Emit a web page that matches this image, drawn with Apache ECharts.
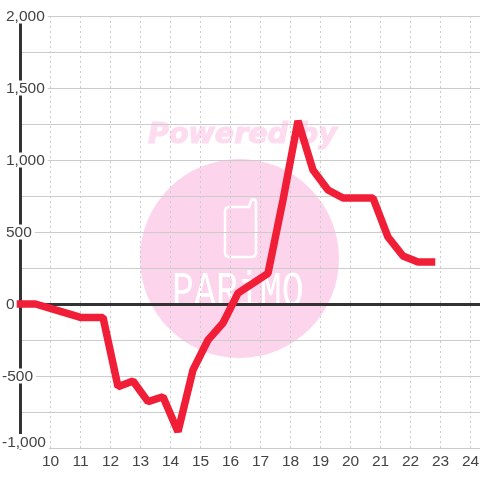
<!DOCTYPE html>
<html><head><meta charset="utf-8">
<style>html,body{margin:0;padding:0;background:#fff}#c{width:480px;height:480px}</style>
<script src="https://cdn.jsdelivr.net/npm/echarts@6/dist/echarts.min.js"></script>
</head><body><div id="c"></div>
<script>
const hours = [9,9.5,10.25,11,11.75,12.25,12.75,13.25,13.75,14.25,14.75,15.25,15.75,16.25,17.25,17.75,18.25,18.75,19.25,19.75,20.25,20.75,21.25,21.75,22.25,22.7];
const values = [0,0,-46,-93,-93,-574,-535,-678,-644,-887,-458,-250,-132,76,213,722,1272,930,792,736,736,736,465,333,292,292];
const yMin = -1000, yMax = 2000, yStep = 500;
const xMin = 9, xMax = 25;

const font = 'Liberation Sans';
const labelRich = {
  pos: {fontFamily:font,fontSize:15.5,color:'#444',backgroundColor:'#fff',padding:[2,3,0,4],lineHeight:13,height:13},
  neg: {fontFamily:font,fontSize:15.5,color:'#444',backgroundColor:'#fff',padding:[2,3,0,0],lineHeight:13,height:13}
};
const phoneOutline = [[229,207],[249,207],[251,201],[252,199.5],[254,199.5],[255.5,200.5],[256,203],[256,253],[255,256],[252,257],[229,257],[226,256],[225,253],[225,211],[226,208]];
const option = {
  animation:false,
  backgroundColor:'#fff',
  grid:{left:20.5,top:16,width:480,height:432,containLabel:false,outerBoundsMode:'none'},
  graphic:[
    {type:'circle',z:-10,silent:true,shape:{cx:239.5,cy:258.5,r:99.5},style:{fill:'#fcd4ec'}},
    {type:'text',z:-9,silent:true,x:148,y:121,style:{text:'Powered by',font:'italic bold 28.5px "DejaVu Sans"',fill:'#fddcf0',stroke:'#fddcf0',lineWidth:1.2}},
    {type:'polygon',z:-9,silent:true,shape:{points:phoneOutline},style:{fill:'none',stroke:'#fff',lineWidth:2.5}},
    {type:'text',z:-9,silent:true,x:172,y:268,scaleY:1.35,style:{text:'PARiMO',font:'36.6px "Liberation Mono"',fill:'#fff'}}
  ],
  xAxis:[{
    type:'value',min:xMin,max:xMax,interval:1,position:'bottom',
    axisLine:{show:false,onZero:false},axisTick:{show:false},
    axisLabel:{color:'#444',fontFamily:font,fontSize:15.5,margin:6,hideOverlap:false,
      formatter:v=>v===xMin?'':String(v)},
    splitLine:{show:true,lineStyle:{color:'#ccc',width:1,type:[2,3]}}
  },{
    type:'value',min:xMin,max:xMax,interval:1,position:'bottom',
    axisLine:{show:true,onZero:true,lineStyle:{color:'#333',width:3}},
    axisTick:{show:false},axisLabel:{show:false},splitLine:{show:false}
  }],
  yAxis:{
    type:'value',min:yMin,max:yMax,interval:yStep,position:'left',
    axisLine:{show:true,onZero:false,lineStyle:{color:'#333',width:3}},
    axisTick:{show:false},
    axisLabel:{align:'left',margin:18.5,verticalAlignMinLabel:'bottom',rich:labelRich,
      formatter:v=>{const s=Math.abs(v).toLocaleString('en-US');return v<0?`{neg|-${s}}`:`{pos|${s}}`;}},
    splitLine:{show:true,lineStyle:{color:'#ccc',width:1}},
    minorTick:{show:false,splitNumber:2},
    minorSplitLine:{show:true,lineStyle:{color:'#ccc',width:1}}
  },
  series:[{
    type:'line',xAxisIndex:0,yAxisIndex:0,
    data:hours.map((h,i)=>[h,values[i]]),
    showSymbol:false,clip:false,z:5,
    lineStyle:{color:'#f01f37',width:7.5,cap:'square',join:'bevel'}
  }]
};
echarts.init(document.getElementById('c'),null,{renderer:'canvas'}).setOption(option);
</script></body></html>
